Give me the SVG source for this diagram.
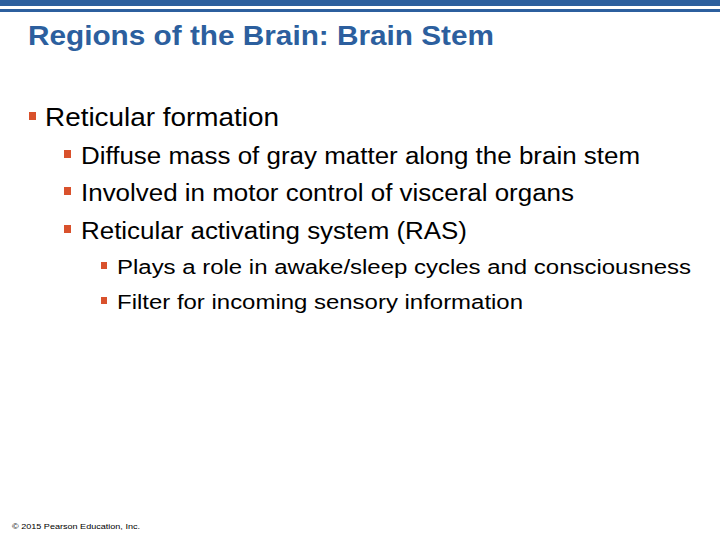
<svg xmlns="http://www.w3.org/2000/svg" width="720" height="540" viewBox="0 0 720 540">
<style>
text{font-family:"Liberation Sans",Arial,sans-serif}
.b{fill:#D9512C}
.t1{font-size:25px;fill:#000}
.t2{font-size:23px;fill:#000}
.t3{font-size:20px;fill:#000}
</style>
<rect width="720" height="540" fill="#fff"/>
<rect x="0" y="0" width="720" height="6" fill="#2C5F9E"/>
<rect x="0" y="9" width="720" height="3" fill="#2C5F9E"/>
<text x="28" y="45" font-size="28" font-weight="bold" fill="#2C5F9E" textLength="466" lengthAdjust="spacingAndGlyphs">Regions of the Brain: Brain Stem</text>
<rect class="b" x="29" y="112" width="7" height="8"/>
<text class="t1" x="45" y="126" textLength="234" lengthAdjust="spacingAndGlyphs">Reticular formation</text>
<rect class="b" x="64" y="150" width="7" height="8"/>
<text class="t2" x="81" y="164" textLength="559" lengthAdjust="spacingAndGlyphs">Diffuse mass of gray matter along the brain stem</text>
<rect class="b" x="64" y="187" width="7" height="8"/>
<text class="t2" x="81" y="201" textLength="493" lengthAdjust="spacingAndGlyphs">Involved in motor control of visceral organs</text>
<rect class="b" x="64" y="225" width="7" height="8"/>
<text class="t2" x="81" y="239" textLength="386" lengthAdjust="spacingAndGlyphs">Reticular activating system (RAS)</text>
<rect class="b" x="101" y="262" width="6" height="7"/>
<text class="t3" x="117" y="274" textLength="574" lengthAdjust="spacingAndGlyphs">Plays a role in awake/sleep cycles and consciousness</text>
<rect class="b" x="101" y="297" width="6" height="7"/>
<text class="t3" x="117" y="309" textLength="406" lengthAdjust="spacingAndGlyphs">Filter for incoming sensory information</text>
<text x="12" y="529" font-size="8" fill="#000" textLength="128" lengthAdjust="spacingAndGlyphs">© 2015 Pearson Education, Inc.</text>
</svg>
